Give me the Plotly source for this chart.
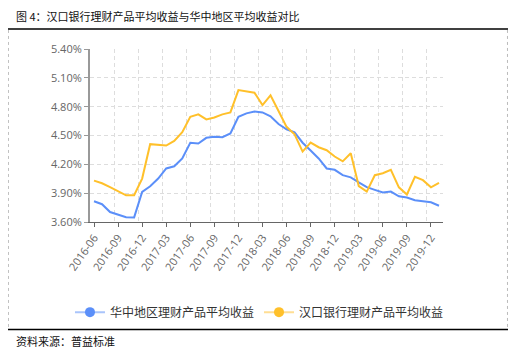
import plotly.graph_objects as go

months = [
    "2016-06", "2016-07", "2016-08", "2016-09", "2016-10", "2016-11", "2016-12",
    "2017-01", "2017-02", "2017-03", "2017-04", "2017-05", "2017-06", "2017-07",
    "2017-08", "2017-09", "2017-10", "2017-11", "2017-12", "2018-01", "2018-02",
    "2018-03", "2018-04", "2018-05", "2018-06", "2018-07", "2018-08", "2018-09",
    "2018-10", "2018-11", "2018-12", "2019-01", "2019-02", "2019-03", "2019-04",
    "2019-05", "2019-06", "2019-07", "2019-08", "2019-09", "2019-10", "2019-11",
    "2019-12", "2020-01",
]

central_china = [
    3.816, 3.785, 3.704, 3.680, 3.650, 3.648, 3.913, 3.972, 4.052, 4.157, 4.180,
    4.262, 4.424, 4.417, 4.476, 4.486, 4.483, 4.521, 4.695, 4.730, 4.750, 4.740,
    4.700, 4.620, 4.565, 4.533, 4.425, 4.344, 4.261, 4.157, 4.143, 4.087, 4.065,
    4.012, 3.962, 3.934, 3.908, 3.917, 3.868, 3.854, 3.826, 3.817, 3.805, 3.769,
]

hankou = [
    4.031, 4.003, 3.962, 3.920, 3.878, 3.878, 4.052, 4.410, 4.400, 4.396, 4.444,
    4.535, 4.695, 4.720, 4.667, 4.688, 4.720, 4.740, 4.973, 4.956, 4.945, 4.817,
    4.918, 4.755, 4.590, 4.512, 4.333, 4.426, 4.378, 4.347, 4.281, 4.231, 4.316,
    3.974, 3.916, 4.087, 4.107, 4.142, 3.961, 3.886, 4.070, 4.035, 3.961, 4.007,
]

series_names = ["华中地区理财产品平均收益", "汉口银行理财产品平均收益"]
tick_labels = months[::3]
y_ticks = [3.60, 3.90, 4.20, 4.50, 4.80, 5.10, 5.40]
y_tick_labels = ["3.60%", "3.90%", "4.20%", "4.50%", "4.80%", "5.10%", "5.40%"]

title_text = "图 4：汉口银行理财产品平均收益与华中地区平均收益对比"
source_text = "资料来源：普益标准"

BLUE = "#5B8FF9"
BLUE_LIGHT = "#A9C4FB"
YELLOW = "#FFC02A"
YELLOW_LIGHT = "#FFDE94"

# page has an 8px body margin: figure occupies page pixels 8..508 x 8..349
OFF = 8
W, H = 500, 341
L = 90 - OFF
T = 49 - OFF
R = W - (442.6 - OFF)
B = H - (221.7 - OFF)
PW, PH = W - L - R, H - T - B


def px(x):
    """page pixel x -> paper fraction"""
    return (x - OFF - L) / PW


def py(y):
    """page pixel y -> paper fraction"""
    return (H - B - (y - OFF)) / PH


idx = list(range(len(months)))
cjk = "Noto Sans CJK SC"

fig = go.Figure()
fig.add_trace(go.Scatter(x=idx, y=central_china, mode="lines",
                         line=dict(color=BLUE, width=2), showlegend=False,
                         hoverinfo="skip"))
fig.add_trace(go.Scatter(x=idx, y=hankou, mode="lines",
                         line=dict(color=YELLOW, width=2), showlegend=False,
                         hoverinfo="skip"))
# legend entries
fig.add_trace(go.Scatter(x=[None], y=[None], mode="lines+markers", name=series_names[0],
                         line=dict(color=BLUE_LIGHT, width=2),
                         marker=dict(color=BLUE, size=10)))
fig.add_trace(go.Scatter(x=[None], y=[None], mode="lines+markers", name=series_names[1],
                         line=dict(color=YELLOW_LIGHT, width=2),
                         marker=dict(color=YELLOW, size=10)))

minor_vals = [k - 0.5 for k in range(3, len(months), 3)] + [len(months) - 0.5]

fig.update_layout(
    width=W, height=H, autosize=False,
    margin=dict(l=L, r=R, t=T, b=B, pad=0),
    paper_bgcolor="white", plot_bgcolor="white",
    font=dict(family="Open Sans", size=11, color="#666"),
    xaxis=dict(
        range=[-0.5, len(months) - 0.5],
        tickmode="array", tickvals=idx[::3], ticktext=tick_labels,
        tickangle=-55, ticks="outside", ticklen=4, tickcolor="#666",
        showline=True, linecolor="#666", linewidth=1,
        showgrid=False, zeroline=False,
        tickfont=dict(size=11, color="#666"),
        minor=dict(tickvals=minor_vals, showgrid=True, gridcolor="#DDDDDD",
                   griddash="4px,3px", gridwidth=1, ticks=""),
    ),
    yaxis=dict(
        range=[3.6, 5.4], tickmode="array", tickvals=y_ticks, ticktext=y_tick_labels,
        ticks="outside", ticklen=4, tickcolor="#999",
        showline=True, linecolor="#999", linewidth=2,
        showgrid=True, gridcolor="#DDDDDD", griddash="4px,3px", gridwidth=1,
        zeroline=False, tickfont=dict(size=11, color="#666"),
    ),
    legend=dict(orientation="h", xref="paper", yref="paper",
                x=px(70), xanchor="left", y=py(311.7), yanchor="middle",
                font=dict(family=cjk, size=12, color="#333"),
                itemclick=False, itemdoubleclick=False, bgcolor="rgba(0,0,0,0)"),
    shapes=[
        dict(type="line", xref="paper", yref="paper", x0=px(8), x1=px(508), y0=py(29), y1=py(29),
             line=dict(color="black", width=1.5)),
        dict(type="line", xref="paper", yref="paper", x0=px(8), x1=px(508), y0=py(329), y1=py(329),
             line=dict(color="black", width=1.5)),
        dict(type="line", xref="paper", yref="paper", x0=px(8.5), x1=px(8.5), y0=py(30), y1=py(328),
             line=dict(color="#BBBBBB", width=1, dash="3px,3px")),
        dict(type="line", xref="paper", yref="paper", x0=px(507), x1=px(507), y0=py(30), y1=py(328),
             line=dict(color="#BBBBBB", width=1, dash="3px,3px")),
    ],
    annotations=[
        dict(text=title_text, xref="paper", yref="paper", x=px(14), y=py(16),
             xanchor="left", yanchor="middle", showarrow=False,
             font=dict(family=cjk, size=11, color="#111")),
        dict(text=source_text, xref="paper", yref="paper", x=px(14), y=py(340.5),
             xanchor="left", yanchor="middle", showarrow=False,
             font=dict(family=cjk, size=11, color="#111")),
    ],
)

fig.write_html("out.html")
